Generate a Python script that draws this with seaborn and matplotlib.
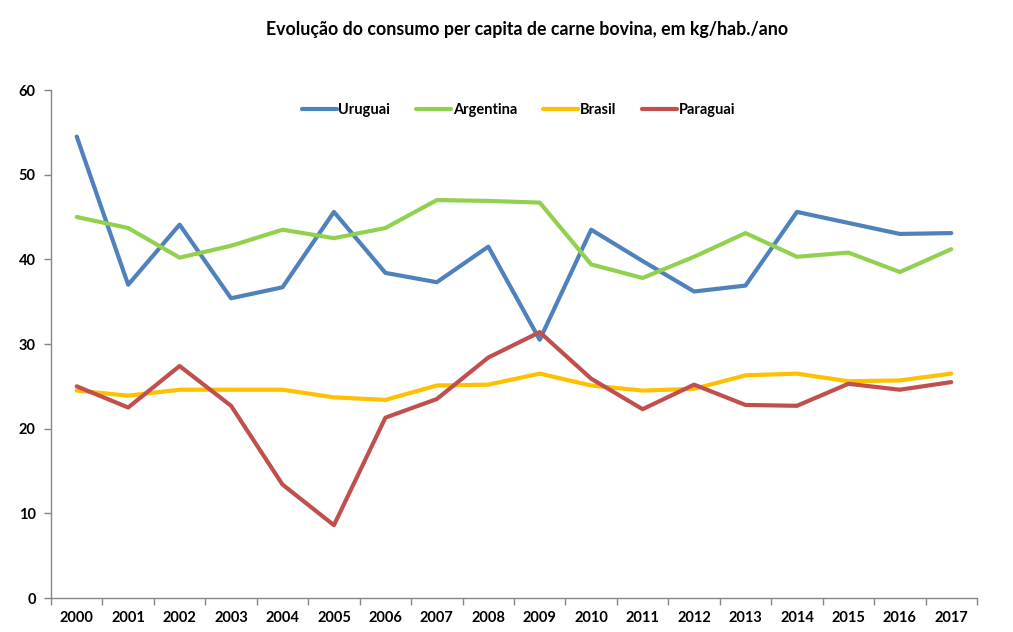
import matplotlib
matplotlib.use("Agg")
import seaborn as sns
import matplotlib.pyplot as plt
from matplotlib.ticker import MultipleLocator, FixedLocator
import pandas as pd

years = list(range(2000, 2018))
uruguai = [54.5, 37.0, 44.1, 35.4, 36.7, 45.6, 38.4, 37.3, 41.5, 30.5,
           43.5, 39.8, 36.2, 36.9, 45.6, 44.3, 43.0, 43.1]
argentina = [45.0, 43.7, 40.2, 41.6, 43.5, 42.5, 43.7, 47.0, 46.9, 46.7,
             39.4, 37.8, 40.3, 43.1, 40.3, 40.8, 38.5, 41.2]
brasil = [24.5, 23.9, 24.6, 24.6, 24.6, 23.7, 23.4, 25.1, 25.2, 26.5,
          25.1, 24.5, 24.7, 26.3, 26.5, 25.6, 25.7, 26.5]
paraguai = [25.0, 22.5, 27.4, 22.7, 13.4, 8.6, 21.3, 23.5, 28.4, 31.4,
            25.9, 22.3, 25.2, 22.8, 22.7, 25.3, 24.6, 25.5]

series = {"Uruguai": uruguai, "Argentina": argentina,
          "Brasil": brasil, "Paraguai": paraguai}
colors = {"Uruguai": "#4F81BD", "Argentina": "#92D050",
          "Brasil": "#FFC000", "Paraguai": "#C0504D"}

df = pd.DataFrame(
    [(y, name, v) for name, vals in series.items() for y, v in zip(years, vals)],
    columns=["Ano", "País", "Consumo"],
)

sns.set_style("white", {"text.color": "black", "xtick.color": "black",
                        "ytick.color": "black"})
plt.rcParams["font.family"] = ["Lato", "DejaVu Sans"]

fig = plt.figure(figsize=(10.13, 6.32), dpi=100)
ax = fig.add_axes([51 / 1013, 1 - 598 / 632, 926 / 1013, 508 / 632])

sns.lineplot(data=df, x="Ano", y="Consumo", hue="País", palette=colors,
             linewidth=3, ax=ax, legend=True)

ax.set_xlim(1999.5, 2017.5)
ax.set_ylim(0, 60)
ax.yaxis.set_major_locator(MultipleLocator(10))
ax.xaxis.set_major_locator(FixedLocator(years))
ax.xaxis.set_minor_locator(FixedLocator([y - 0.5 for y in years] + [2017.5]))
ax.set_xticklabels([str(y) for y in years])
ax.tick_params(axis="x", which="major", length=0, pad=9, labelsize=10.5,
               labelcolor="black")
ax.tick_params(axis="x", which="minor", length=5, color="#868686", width=1,
               direction="out", bottom=True)
ax.tick_params(axis="y", which="major", length=5, color="#868686", width=1,
               direction="out", left=True, labelsize=10.5, pad=6,
               labelcolor="black")
for lbl in ax.get_xticklabels() + ax.get_yticklabels():
    lbl.set_fontweight("bold")

for s in ["top", "right"]:
    ax.spines[s].set_visible(False)
for s in ["left", "bottom"]:
    ax.spines[s].set_color("#868686")
    ax.spines[s].set_linewidth(1)

ax.set_xlabel("")
ax.set_ylabel("")

leg = ax.legend(loc="upper center", bbox_to_anchor=(0.505, 1.0), ncol=4,
                frameon=False, handlelength=2.4, handletextpad=0.1,
                columnspacing=1.8, prop={"weight": "bold", "size": 10.5})
for h in leg.get_lines():
    h.set_linewidth(3)
for t in leg.get_texts():
    t.set_color("black")

fig.text(0.52, 1 - 30 / 632, "Evolução do consumo per capita de carne bovina, em kg/hab./ano",
         ha="center", va="center", fontsize=12.8, fontweight="bold", color="black")

fig.savefig("out.png", dpi=100)
